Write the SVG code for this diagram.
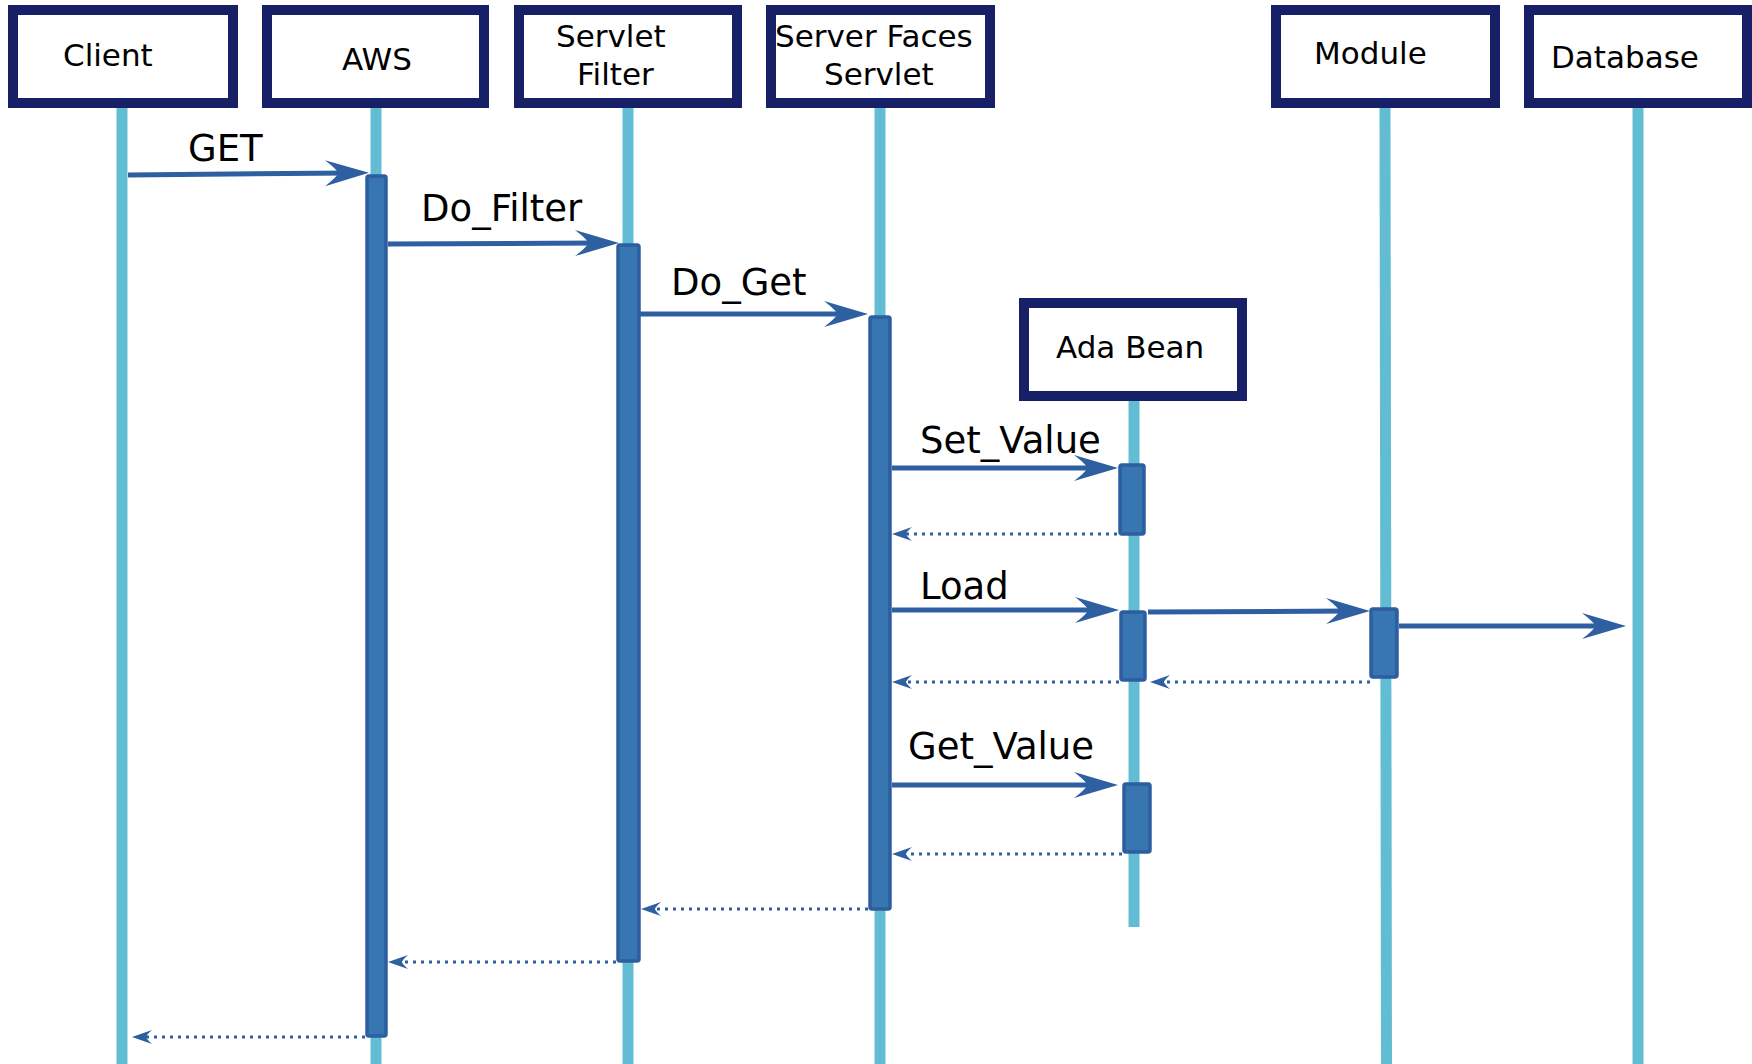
<svg xmlns="http://www.w3.org/2000/svg" width="1752" height="1064" viewBox="0 0 1752 1064">
  <style>
    .head { fill: #ffffff; stroke: #172066; stroke-width: 10; }
    .hlabel { font-family: "DejaVu Sans", "Liberation Sans", sans-serif; font-size: 31px; fill: #000000; }
    .mlabel { font-family: "DejaVu Sans", "Liberation Sans", sans-serif; font-size: 37px; fill: #000000; }
    .life { stroke: #62bdd4; stroke-width: 11; fill: none; }
    .act { fill: #3776b0; stroke: #2d5e9f; stroke-width: 3.5; }
    .call { stroke: #2e5fa0; stroke-width: 5; fill: none; marker-end: url(#bigHead); }
    .ret { stroke: #2e5fa0; stroke-width: 3.2; stroke-dasharray: 3 5; fill: none; marker-end: url(#smallHead); }
  </style>
  <defs>
    <marker id="bigHead" markerUnits="userSpaceOnUse" viewBox="-30 -16 60 32" markerWidth="60" markerHeight="32" refX="0" refY="0" orient="auto" overflow="visible">
      <path d="M20,0 L-24,-13 Q-11,-3 -11,0 Q-11,3 -24,13 Z" fill="#2e5fa0"/>
    </marker>
    <marker id="smallHead" markerUnits="userSpaceOnUse" viewBox="-15 -10 30 20" markerWidth="30" markerHeight="20" refX="0" refY="0" orient="auto" overflow="visible">
      <path d="M10,0 L-10,-7 Q-4,-1.5 -4,0 Q-4,1.5 -10,7 Z" fill="#2e5fa0"/>
    </marker>
  </defs>

  <!-- lifelines -->
  <g id="lifelines">
    <line class="life" x1="122" y1="108" x2="122" y2="1064"/>
    <line class="life" x1="376" y1="108" x2="376" y2="1064"/>
    <line class="life" x1="628" y1="108" x2="628" y2="1064"/>
    <line class="life" x1="880" y1="108" x2="880" y2="1064"/>
    <line class="life" x1="1134" y1="401" x2="1134" y2="927"/>
    <line class="life" x1="1385" y1="108" x2="1386.5" y2="1064"/>
    <line class="life" x1="1638" y1="108" x2="1638" y2="1064"/>
  </g>

  <!-- participants -->
  <g id="client">
    <rect class="head" x="13" y="10" width="220" height="93"/>
    <text class="hlabel" x="63" y="66">Client</text>
  </g>
  <g id="aws">
    <rect class="head" x="267" y="10" width="217" height="93"/>
    <text class="hlabel" x="342" y="70">AWS</text>
  </g>
  <g id="servlet-filter">
    <rect class="head" x="519" y="10" width="218" height="93"/>
    <text class="hlabel" x="556" y="47">Servlet</text>
    <text class="hlabel" x="577" y="85">Filter</text>
  </g>
  <g id="server-faces-servlet">
    <rect class="head" x="771" y="10" width="219" height="93"/>
    <text class="hlabel" x="775" y="47">Server Faces</text>
    <text class="hlabel" x="824" y="85">Servlet</text>
  </g>
  <g id="ada-bean">
    <rect class="head" x="1024" y="303" width="218" height="93"/>
    <text class="hlabel" x="1056" y="358">Ada Bean</text>
  </g>
  <g id="module">
    <rect class="head" x="1276" y="10" width="219" height="93"/>
    <text class="hlabel" x="1314" y="64">Module</text>
  </g>
  <g id="database">
    <rect class="head" x="1529" y="10" width="218" height="93"/>
    <text class="hlabel" x="1551" y="68">Database</text>
  </g>

  <!-- activation bars -->
  <g id="activations">
    <rect class="act" x="367" y="176" width="19" height="860" rx="2"/>
    <rect class="act" x="618" y="245" width="21" height="716" rx="2"/>
    <rect class="act" x="870" y="317" width="20" height="592" rx="2"/>
    <rect class="act" x="1120" y="465" width="24" height="69" rx="2"/>
    <rect class="act" x="1121" y="612" width="24" height="68" rx="2"/>
    <rect class="act" x="1371" y="609" width="26" height="68" rx="2"/>
    <rect class="act" x="1124" y="784" width="26" height="68" rx="2"/>
  </g>

  <!-- messages -->
  <g id="connectors">
    <path class="call" d="M128,175 L349,173"/>
    <path class="call" d="M388,244 L599,243"/>
    <path class="call" d="M639,314 L848,314"/>
    <path class="call" d="M892,468 L1098,468"/>
    <path class="call" d="M892,610 L1099,610"/>
    <path class="call" d="M1148,612 L1350,611"/>
    <path class="call" d="M1399,626 L1606,626"/>
    <path class="call" d="M892,785 L1098,785"/>

    <path class="ret" d="M1117,534 L902,534"/>
    <path class="ret" d="M1370,682 L1160,682"/>
    <path class="ret" d="M1119,682 L902,682"/>
    <path class="ret" d="M1122,854 L902,854"/>
    <path class="ret" d="M868,909 L651,909"/>
    <path class="ret" d="M616,962 L398,962"/>
    <path class="ret" d="M365,1037 L142,1037"/>
  </g>

  <!-- message labels -->
  <g id="labels">
    <text class="mlabel" x="188" y="161">GET</text>
    <text class="mlabel" x="421" y="221">Do_Filter</text>
    <text class="mlabel" x="671" y="295">Do_Get</text>
    <text class="mlabel" x="920" y="453">Set_Value</text>
    <text class="mlabel" x="920" y="599">Load</text>
    <text class="mlabel" x="908" y="759">Get_Value</text>
  </g>
</svg>
